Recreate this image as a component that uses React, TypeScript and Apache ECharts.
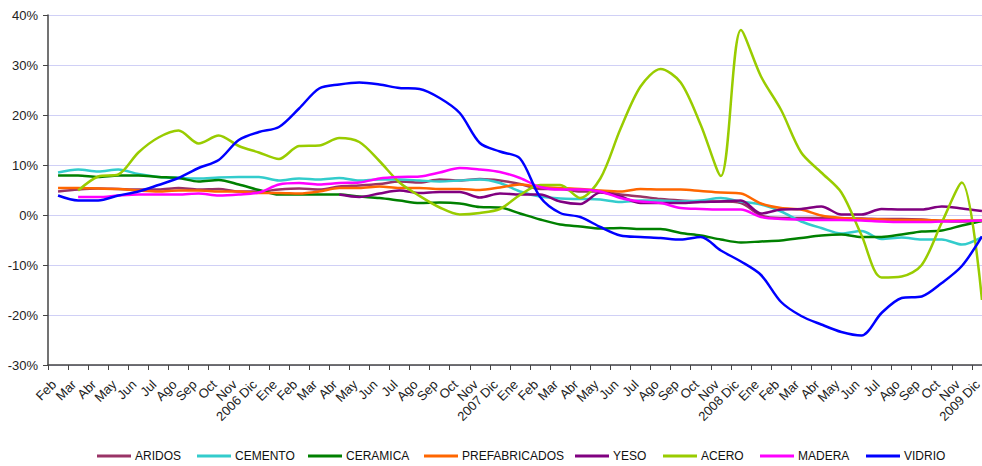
import React, { useEffect, useRef } from 'react';
import * as echarts from 'echarts';

const categories = [
  'Feb', 'Mar', 'Abr', 'May', 'Jun', 'Jul', 'Ago', 'Sep', 'Oct', 'Nov', '2006 Dic',
  'Ene', 'Feb', 'Mar', 'Abr', 'May', 'Jun', 'Jul', 'Ago', 'Sep', 'Oct', 'Nov', '2007 Dic',
  'Ene', 'Feb', 'Mar', 'Abr', 'May', 'Jun', 'Jul', 'Ago', 'Sep', 'Oct', 'Nov', '2008 Dic',
  'Ene', 'Feb', 'Mar', 'Abr', 'May', 'Jun', 'Jul', 'Ago', 'Sep', 'Oct', 'Nov', '2009 Dic',
];

const aridos = [4.7, 5.1, 5.3, 5.2, 5.1, 5.1, 5.4, 5.1, 5.2, 4.7, 4.7, 5.1, 5.3, 5.1, 5.7, 5.9, 6.2, 6.7, 6.5, 7.1, 6.9, 7.2, 6.9, 6.2, 5.2, 5.2, 4.7, 4.7, 4.1, 3.7, 3.2, 2.9, 2.7, 2.7, 2.4, -0.1, -0.6, -0.6, -0.6, -0.7, -0.7, -0.8, -0.8, -0.9, -1.2, -1.3, -1.2];
const cemento = [8.5, 9.1, 8.7, 9.1, 8.2, 7.6, 7.4, 7.3, 7.5, 7.6, 7.6, 6.9, 7.3, 7.1, 7.4, 6.9, 7.1, 7.1, 6.9, 6.7, 6.9, 7.1, 6.4, 4.7, 3.7, 3.3, 3.2, 3.1, 2.6, 2.9, 2.9, 2.7, 2.9, 3.4, 2.7, 2.1, 0.7, -1.3, -2.6, -3.7, -3.2, -4.8, -4.5, -4.9, -4.9, -5.9, -4.4];
const ceramica = [7.9, 7.9, 7.6, 7.9, 7.9, 7.6, 7.4, 6.7, 7.0, 6.1, 5.0, 4.1, 4.1, 4.1, 4.1, 3.7, 3.4, 2.9, 2.4, 2.5, 2.3, 1.6, 1.5, 0.3, -0.9, -1.9, -2.3, -2.7, -2.6, -2.8, -2.8, -3.6, -4.1, -4.9, -5.5, -5.3, -5.1, -4.6, -4.1, -3.9, -4.4, -4.4, -3.9, -3.3, -3.1, -2.1, -1.2];
const prefabricados = [5.4, 5.4, 5.3, 5.2, 4.9, 4.7, 4.9, 4.9, 4.7, 4.7, 4.4, 4.4, 4.3, 4.7, 5.4, 5.4, 5.7, 5.4, 5.4, 5.2, 5.2, 5.0, 5.5, 6.1, 5.6, 5.4, 5.2, 4.9, 4.7, 5.2, 5.1, 5.1, 4.8, 4.5, 4.3, 2.3, 1.4, 1.1, -0.1, -0.6, -0.8, -0.9, -1.0, -1.0, -1.1, -1.1, -1.1];
const yeso = [null, null, null, null, null, null, null, null, null, null, null, null, null, null, 4.1, 3.6, 4.3, 4.9, 4.4, 4.6, 4.6, 3.5, 4.3, 4.1, 4.1, 2.7, 2.2, 4.5, 3.7, 2.4, 2.4, 2.4, 2.6, 2.7, 2.9, 0.3, 1.1, 1.2, 1.7, 0.1, 0.1, 1.2, 1.1, 1.1, 1.7, 1.3, 0.8];
const acero = [null, 4.9, 7.7, 8.1, 12.5, 15.5, 16.9, 14.3, 15.9, 13.8, 12.5, 11.2, 13.8, 13.9, 15.4, 14.6, 10.8, 6.5, 3.8, 1.5, 0.1, 0.4, 1.2, 4.0, 6.0, 6.0, 3.4, 7.3, 17.2, 25.7, 29.2, 26.5, 18.0, 7.8, 37.0, 27.7, 21.0, 12.5, 8.5, 4.5, -4.0, -12.5, -12.3, -10.0, -1.5, 6.5, -17.0];
const madera = [null, 3.6, 3.6, 3.9, 4.1, 4.1, 4.1, 4.3, 3.9, 4.1, 4.5, 6.1, 6.4, 6.1, 6.4, 6.5, 7.3, 7.6, 7.7, 8.5, 9.4, 9.1, 8.6, 7.4, 5.6, 5.1, 5.1, 4.7, 3.4, 2.7, 2.4, 1.4, 1.2, 1.1, 1.1, -0.4, -0.8, -0.9, -1.0, -1.0, -1.1, -1.3, -1.4, -1.4, -1.3, -1.2, -1.1];
const vidrio = [3.9, 2.9, 2.9, 3.9, 4.7, 6.0, 7.4, 9.4, 11.0, 15.0, 16.6, 17.6, 21.3, 25.3, 26.1, 26.5, 26.1, 25.4, 25.2, 23.4, 20.4, 14.4, 12.7, 11.3, 3.6, 0.4, -0.4, -2.4, -4.1, -4.4, -4.6, -4.9, -4.4, -7.1, -9.3, -12.0, -17.4, -20.2, -21.9, -23.4, -24.1, -19.6, -16.6, -16.3, -13.6, -10.2, -4.3];

const seriesNames = ['ARIDOS', 'CEMENTO', 'CERAMICA', 'PREFABRICADOS', 'YESO', 'ACERO', 'MADERA', 'VIDRIO'];
const seriesData = [aridos, cemento, ceramica, prefabricados, yeso, acero, madera, vidrio];
const seriesColors = ['#993366', '#33CCCC', '#008000', '#FF6600', '#800080', '#99CC00', '#FF00FF', '#0000FF'];
const legendLeft = [97, 197, 308, 424, 575, 663, 760, 866];

const FONT = '"Liberation Sans", Arial, sans-serif';

export default function App() {
  const ref = useRef<HTMLDivElement>(null);
  useEffect(() => {
    const chart = echarts.init(ref.current as HTMLDivElement, null, { renderer: 'svg' });
    chart.setOption({
      animation: false,
      backgroundColor: '#ffffff',
      grid: { left: 48, top: 15, bottom: 101, right: 0, containLabel: false },
      xAxis: {
        type: 'category',
        data: categories,
        boundaryGap: true,
        axisLine: { onZero: false, lineStyle: { color: '#444', width: 1.5 } },
        axisTick: { show: true, length: 5, lineStyle: { color: '#444', width: 1 } },
        axisLabel: { interval: 0, rotate: 45, fontSize: 13, fontFamily: FONT, color: '#222', margin: 13, padding: [0, 6, 0, 0] },
        splitLine: { show: false },
      },
      yAxis: {
        type: 'value',
        min: -30,
        max: 40,
        interval: 10,
        axisLine: { show: true, lineStyle: { color: '#444', width: 1.5 } },
        axisTick: { show: true, length: 5, lineStyle: { color: '#444', width: 1 } },
        axisLabel: { formatter: '{value}%', fontSize: 13, fontFamily: FONT, color: '#222', margin: 10 },
        splitLine: { show: true, lineStyle: { color: '#d0d0f6', width: 1 } },
      },
      legend: seriesNames.map((name, i) => ({
        data: [name],
        left: legendLeft[i],
        top: 450,
        padding: 0,
        itemWidth: 34,
        itemHeight: 3,
        icon: 'rect',
        selectedMode: false,
        textStyle: { fontSize: 12, fontFamily: FONT, color: '#111', padding: [0, 0, 0, -1] },
      })),
      series: seriesNames.map((name, i) => ({
        name,
        type: 'line',
        data: seriesData[i],
        smooth: 0.3,
        symbol: 'none',
        itemStyle: { color: seriesColors[i] },
        lineStyle: { color: seriesColors[i], width: 2.5 },
      })),
    });
    return () => chart.dispose();
  }, []);
  return (
    <div style={{ position: 'fixed', left: 0, top: 0, width: 982, height: 466, overflow: 'hidden', background: '#fff' }}>
      <div ref={ref} style={{ position: 'absolute', left: 0, top: 0, width: 992, height: 466 }} />
    </div>
  );
}
